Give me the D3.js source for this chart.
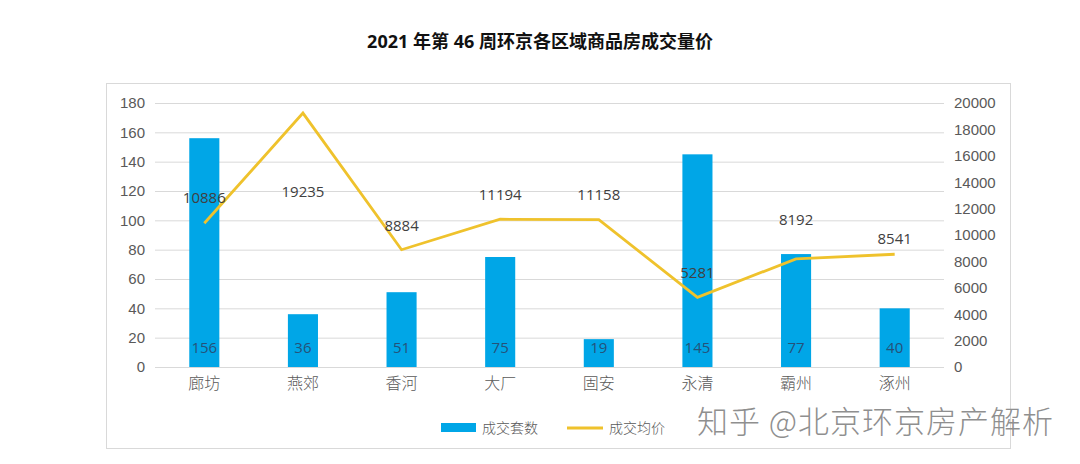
<!DOCTYPE html>
<html>
<head>
<meta charset="utf-8">
<script src="https://cdn.jsdelivr.net/npm/d3@7"></script>
<style>
  body { margin: 0; background: #fff; }
  svg { display: block; font-family: "Open Sans", "Noto Sans CJK SC", sans-serif; }
</style>
</head>
<body>
<svg id="chart" width="1080" height="464"></svg>
<script>
// data
var regions = ['廊坊', '燕郊', '香河', '大厂', '固安', '永清', '霸州', '涿州'];
var dealCount = [156, 36, 51, 75, 19, 145, 77, 40];
var avgPrice = [10886, 19235, 8884, 11194, 11158, 5281, 8192, 8541];
var leftTicks = [0, 20, 40, 60, 80, 100, 120, 140, 160, 180];
var rightTicks = [0, 2000, 4000, 6000, 8000, 10000, 12000, 14000, 16000, 18000, 20000];
// where each price label sits relative to its point (Excel hand placed them)
var priceLabelDy = [-20, 84, -19, -19, -20, -19, -34, -10];

var svg = d3.select('#chart');
var margin = { left: 155, right: 944, top: 103, bottom: 367 };

// frame
svg.append('rect')
  .attr('x', 106.5).attr('y', 83.5)
  .attr('width', 904).attr('height', 365)
  .attr('fill', 'none')
  .attr('stroke', '#d9d9d9');

// title
svg.append('text')
  .attr('x', 540).attr('y', 48)
  .attr('text-anchor', 'middle')
  .style('font-size', '18px')
  .style('font-weight', 'bold')
  .attr('fill', '#111')
  .text('2021 年第 46 周环京各区域商品房成交量价');

var x = d3.scaleBand()
  .domain(regions)
  .range([margin.left, margin.right])
  .paddingInner(0.695)
  .paddingOuter(0.3475);

var yLeft = d3.scaleLinear().domain([0, 180]).range([margin.bottom, margin.top]);
var yRight = d3.scaleLinear().domain([0, 20000]).range([margin.bottom, margin.top]);

// gridlines
svg.append('g')
  .selectAll('line')
  .data(leftTicks)
  .enter()
  .append('line')
  .attr('x1', margin.left).attr('x2', margin.right)
  .attr('y1', d => yLeft(d) + 0.5).attr('y2', d => yLeft(d) + 0.5)
  .attr('stroke', '#d9d9d9')
  .attr('stroke-width', 1);

// left axis
var leftAxis = svg.append('g')
  .attr('transform', 'translate(' + (margin.left - 10) + ',0)')
  .call(d3.axisLeft(yLeft).tickValues(leftTicks).tickSize(0).tickPadding(0));
leftAxis.select('.domain').remove();
leftAxis.selectAll('text').style('font-size', '15px').attr('fill', '#595959');

// right axis
var rightAxis = svg.append('g')
  .attr('transform', 'translate(' + (margin.right + 10) + ',0)')
  .call(d3.axisRight(yRight).tickValues(rightTicks).tickFormat(d3.format('d')).tickSize(0).tickPadding(0));
rightAxis.select('.domain').remove();
rightAxis.selectAll('text').style('font-size', '15px').attr('fill', '#595959');

// category axis
var bottomAxis = svg.append('g')
  .attr('transform', 'translate(0,' + margin.bottom + ')')
  .call(d3.axisBottom(x).tickSize(0).tickPadding(11));
bottomAxis.select('.domain').remove();
bottomAxis.selectAll('text')
  .style('font-size', '16px')
  .style('font-family', '"Noto Sans CJK SC", sans-serif')
  .style('font-weight', '300')
  .attr('fill', '#595959');

// bars
svg.append('g')
  .selectAll('rect')
  .data(dealCount)
  .enter()
  .append('rect')
  .attr('x', (d, i) => x(regions[i]))
  .attr('y', d => yLeft(d))
  .attr('width', x.bandwidth())
  .attr('height', d => yLeft(0) - yLeft(d))
  .attr('fill', '#00a6e7');

// count labels inside the bars
svg.append('g')
  .selectAll('text')
  .data(dealCount)
  .enter()
  .append('text')
  .attr('x', (d, i) => x(regions[i]) + x.bandwidth() / 2)
  .attr('y', yLeft(0) - 14)
  .attr('text-anchor', 'middle')
  .style('font-size', '15px')
  .attr('fill', '#24527a')
  .text(d => d);

// price line
var line = d3.line()
  .x((d, i) => x(regions[i]) + x.bandwidth() / 2)
  .y(d => yRight(d));

svg.append('path')
  .datum(avgPrice)
  .attr('d', line)
  .attr('fill', 'none')
  .attr('stroke', '#efc22c')
  .attr('stroke-width', 2.8)
  .attr('stroke-linejoin', 'miter');

// price labels
svg.append('g')
  .selectAll('text')
  .data(avgPrice)
  .enter()
  .append('text')
  .attr('x', (d, i) => x(regions[i]) + x.bandwidth() / 2)
  .attr('y', (d, i) => yRight(d) + priceLabelDy[i])
  .attr('text-anchor', 'middle')
  .style('font-size', '15px')
  .attr('fill', '#404040')
  .text(d => d);

// legend
var legend = svg.append('g');
legend.append('rect')
  .attr('x', 441).attr('y', 423)
  .attr('width', 35).attr('height', 9)
  .attr('fill', '#00a6e7');
legend.append('text')
  .attr('x', 482).attr('y', 433)
  .style('font-size', '14px')
  .style('font-family', '"Noto Sans CJK SC", sans-serif')
  .style('font-weight', '300')
  .attr('fill', '#595959')
  .text('成交套数');
legend.append('line')
  .attr('x1', 567).attr('x2', 603)
  .attr('y1', 428).attr('y2', 428)
  .attr('stroke', '#efc22c')
  .attr('stroke-width', 2.8);
legend.append('text')
  .attr('x', 609).attr('y', 433)
  .style('font-size', '14px')
  .style('font-family', '"Noto Sans CJK SC", sans-serif')
  .style('font-weight', '300')
  .attr('fill', '#595959')
  .text('成交均价');

// watermark
svg.append('text')
  .attr('x', 697).attr('y', 433)
  .style('font-size', '31px')
  .style('font-family', '"Noto Sans CJK SC", sans-serif')
  .style('font-weight', '300')
  .style('letter-spacing', '1px')
  .attr('fill', '#8f8f8f')
  .text('知乎 @北京环京房产解析');
</script>
</body>
</html>
